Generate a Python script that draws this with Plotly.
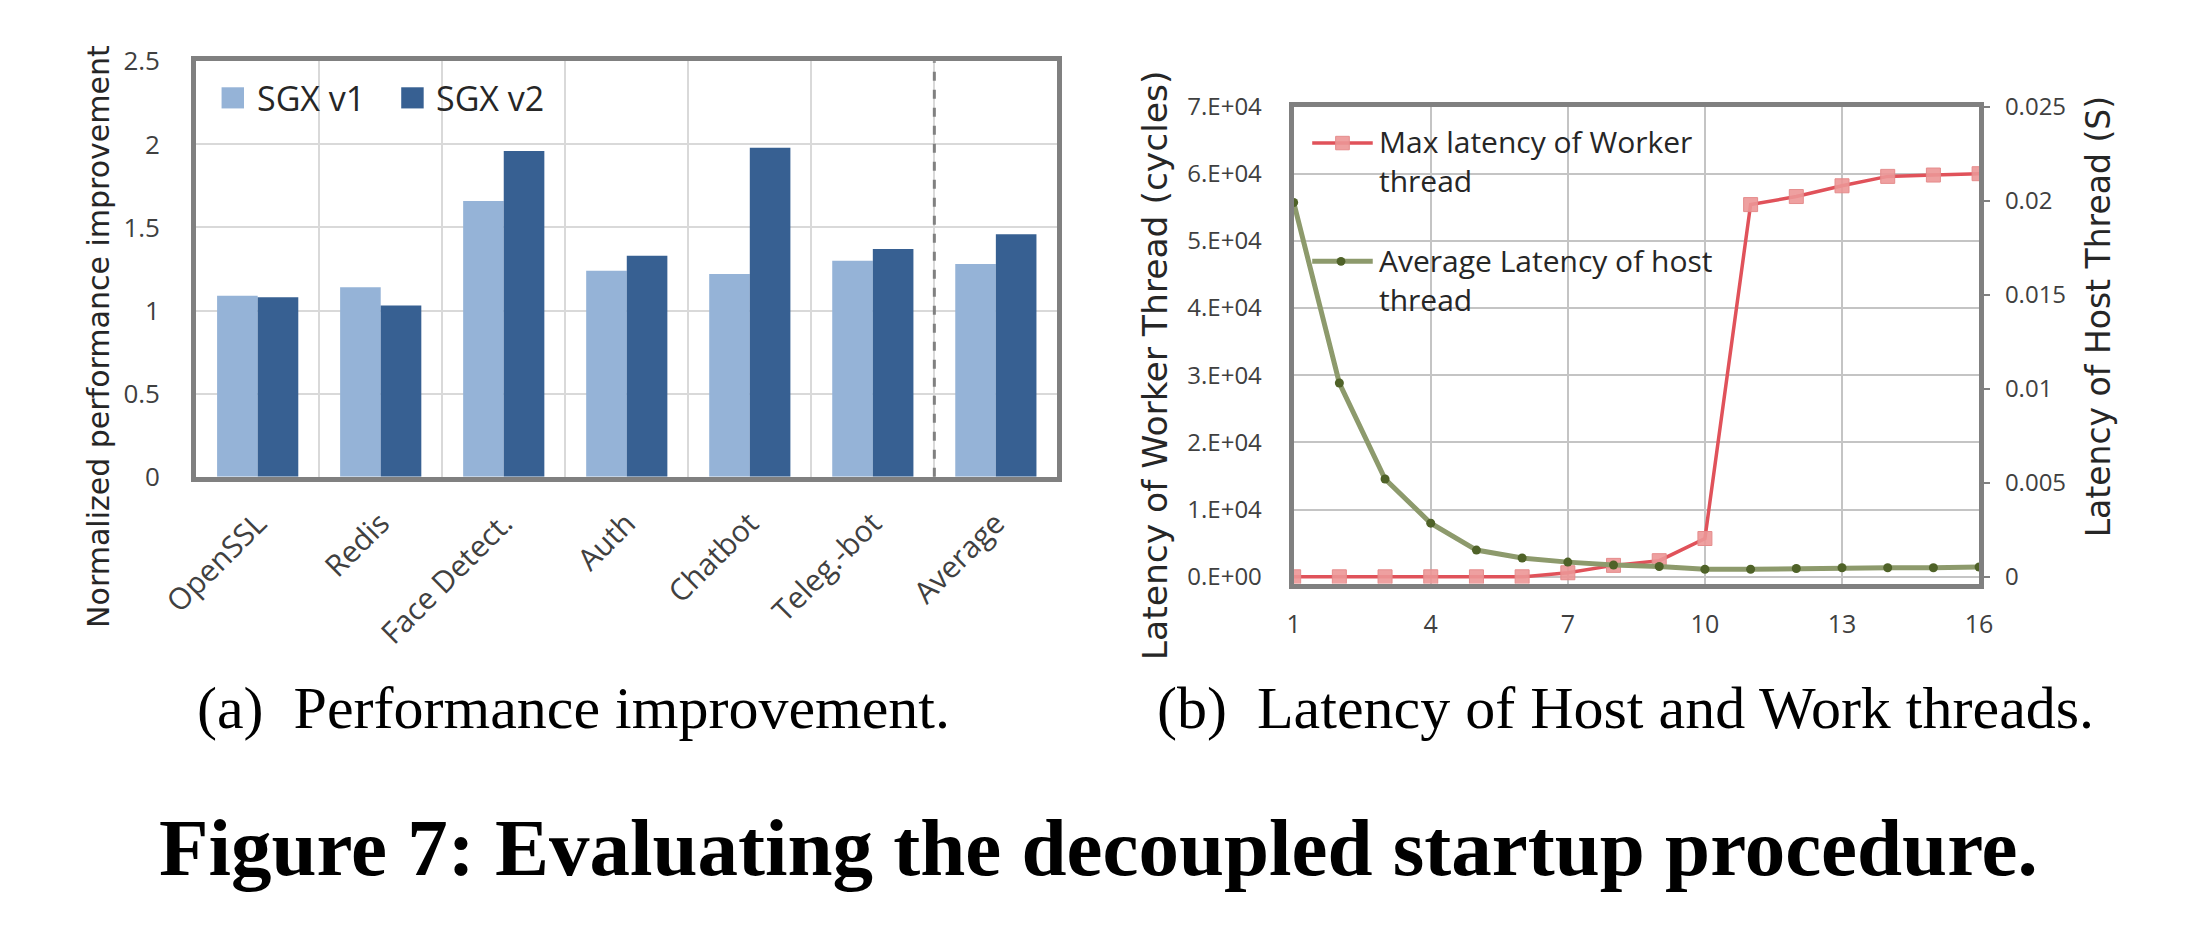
import plotly.graph_objects as go

W, H = 2204, 940

# ---------------- data: (a) performance improvement ----------------
categories = ["OpenSSL", "Redis", "Face Detect.", "Auth", "Chatbot", "Teleg.-bot", "Average"]
sgx_v1 = [1.09, 1.14, 1.66, 1.24, 1.22, 1.30, 1.28]
sgx_v2 = [1.08, 1.03, 1.96, 1.33, 1.98, 1.37, 1.46]
bar_tickvals = [0, 0.5, 1, 1.5, 2, 2.5]
bar_ticktext = ["0", "0.5", "1", "1.5", "2", "2.5"]

# ---------------- data: (b) latency of host and worker threads ----------------
threads = [1, 2, 3, 4, 5, 6, 7, 8, 9, 10, 11, 12, 13, 14, 15, 16]
max_latency_worker = [0, 0, 0, 0, 0, 0, 600, 1700, 2400, 5700,
                      55400, 56600, 58200, 59600, 59800, 60000]
avg_latency_host = [0.0199, 0.0103, 0.0052, 0.00285, 0.00142, 0.00100, 0.00078, 0.00063,
                    0.00055, 0.00040, 0.00040, 0.00044, 0.00048, 0.00048, 0.00048, 0.00052]
thread_ticks = [1, 4, 7, 10, 13, 16]
worker_tickvals = [0, 10000, 20000, 30000, 40000, 50000, 60000, 70000]
worker_ticktext = ["0.E+00", "1.E+04", "2.E+04", "3.E+04", "4.E+04", "5.E+04", "6.E+04", "7.E+04"]
host_tickvals = [0, 0.005, 0.01, 0.015, 0.02, 0.025]
host_ticktext = ["0", "0.005", "0.01", "0.015", "0.02", "0.025"]

# ---------------- styling ----------------
C_V1 = "#95B3D7"
C_V2 = "#376092"
C_RED = "#E0525A"
C_RED_MK = "rgba(236,150,150,0.9)"
C_GREEN = "#8D9A6C"
C_GREEN_MK = "#4F6228"
C_BORDER = "#808080"
TICK_FONT = "Open Sans"
TITLE_FONT = "DejaVu Sans"
SERIF = "Liberation Serif"


def px(x):
    return x / W


def py(y):
    return 1 - y / H


fig = go.Figure()

fig.add_trace(go.Bar(x=categories, y=sgx_v1, name="SGX v1", marker=dict(color=C_V1, line=dict(width=0)),
                     xaxis="x", yaxis="y", showlegend=False))
fig.add_trace(go.Bar(x=categories, y=sgx_v2, name="SGX v2", marker=dict(color=C_V2, line=dict(width=0)),
                     xaxis="x", yaxis="y", showlegend=False))

fig.add_trace(go.Scatter(x=threads, y=max_latency_worker, name="Max latency of Worker thread",
                         mode="lines+markers", xaxis="x2", yaxis="y2", showlegend=False,
                         line=dict(color=C_RED, width=3.5),
                         marker=dict(symbol="square", size=14, color=C_RED_MK,
                                     line=dict(color="#E58C8C", width=1))))
fig.add_trace(go.Scatter(x=threads, y=avg_latency_host, name="Average Latency of host thread",
                         mode="lines+markers", xaxis="x2", yaxis="y3", showlegend=False,
                         line=dict(color=C_GREEN, width=5),
                         marker=dict(symbol="circle", size=9, color=C_GREEN_MK)))

worker_lo = -1000
worker_hi = 70000
host_hi = 0.025
host_lo = worker_lo / worker_hi * host_hi

axis_common = dict(showline=True, linecolor=C_BORDER, linewidth=5, mirror=True, zeroline=False)

fig.update_layout(
    width=W, height=H,
    margin=dict(l=0, r=0, t=0, b=0),
    paper_bgcolor="white", plot_bgcolor="white",
    barmode="group", bargap=0.34, bargroupgap=0,
    xaxis=dict(domain=[px(162), px(1044)], anchor="y", type="category",
               tickson="boundaries", showgrid=True, gridcolor="#D9D9D9", gridwidth=2,
               tickangle=-45, ticks="", ticklabelstandoff=12,
               tickfont=dict(family=TICK_FONT, size=30, color="#404040"), **axis_common),
    yaxis=dict(domain=[py(476), py(44)], anchor="x", range=[0, 2.5],
               tickvals=bar_tickvals, ticktext=bar_ticktext,
               showgrid=True, gridcolor="#D9D9D9", gridwidth=2, ticks="", ticklabelstandoff=26,
               tickfont=dict(family=TICK_FONT, size=26, color="#404040"), **axis_common),
    xaxis2=dict(domain=[px(1286), px(1988)], anchor="y2", range=[1, 16],
                tickvals=thread_ticks, showgrid=True, gridcolor="#C4C4C4", gridwidth=2,
                ticks="", ticklabelstandoff=14,
                tickfont=dict(family=TICK_FONT, size=25, color="#404040"), **axis_common),
    yaxis2=dict(domain=[py(587), py(91)], anchor="x2", range=[worker_lo, worker_hi],
                tickvals=worker_tickvals, ticktext=worker_ticktext,
                showgrid=True, gridcolor="#C4C4C4", gridwidth=2, ticks="", ticklabelstandoff=22,
                tickfont=dict(family=TICK_FONT, size=24, color="#404040"), **axis_common),
    yaxis3=dict(overlaying="y2", side="right", anchor="x2", range=[host_lo, host_hi],
                tickvals=host_tickvals, ticktext=host_ticktext, showgrid=False, zeroline=False,
                showline=False, ticks="outside", ticklen=10, tickwidth=2, tickcolor=C_BORDER,
                ticklabelstandoff=10,
                tickfont=dict(family=TICK_FONT, size=24, color="#404040")),
)

shapes = []
annotations = []


def note(text, x, y, size, family, color="#262626", xanchor="center", yanchor="middle", **kw):
    annotations.append(dict(text=text, xref="paper", yref="paper", x=px(x), y=py(y),
                            xanchor=xanchor, yanchor=yanchor, showarrow=False,
                            font=dict(family=family, size=size, color=color), **kw))


# dashed separator before "Average"
shapes.append(dict(type="line", xref="x", yref="y domain", x0=5.5, x1=5.5, y0=0, y1=1,
                   line=dict(color=C_BORDER, width=3, dash="dash")))

# legend (a)
for x0, color, label in [(188, C_V1, "SGX v1"), (372, C_V2, "SGX v2")]:
    shapes.append(dict(type="rect", xref="paper", yref="paper", x0=px(x0), x1=px(x0 + 23),
                       y0=py(93), y1=py(71), fillcolor=color, line=dict(width=0)))
    note(label, x0 + 34, 82, 34, TICK_FONT, xanchor="left")

# legend (b)
shapes.append(dict(type="line", xref="paper", yref="paper", x0=px(1305), x1=px(1367),
                   y0=py(129), y1=py(129), line=dict(color=C_RED, width=3.5)))
shapes.append(dict(type="rect", xref="paper", yref="paper", x0=px(1329), x1=px(1343),
                   y0=py(136), y1=py(122), fillcolor=C_RED_MK, line=dict(color="#E58C8C", width=1)))
note("Max latency of Worker<br>thread", 1371, 148, 30, TICK_FONT, xanchor="left", align="left")
shapes.append(dict(type="line", xref="paper", yref="paper", x0=px(1305), x1=px(1367),
                   y0=py(252), y1=py(252), line=dict(color=C_GREEN, width=5)))
shapes.append(dict(type="circle", xref="paper", yref="paper", x0=px(1330), x1=px(1339),
                   y0=py(256.5), y1=py(247.5), fillcolor=C_GREEN_MK, line=dict(width=0)))
note("Average Latency of host<br>thread", 1371, 271, 30, TICK_FONT, xanchor="left", align="left")

# axis titles
note("Normalized performance improvement", 62, 330, 30, TITLE_FONT, textangle=-90)
note("Latency of Worker Thread (cycles)", 1144, 360, 34.5, TITLE_FONT, textangle=-90)
note("Latency of Host Thread (S)", 2110, 310, 33, TITLE_FONT, textangle=-90)

# captions
note("(a)\u2002Performance improvement.", 548, 716, 60, SERIF, color="black")
note("(b)\u2002Latency of Host and Work threads.", 1626, 716, 60, SERIF, color="black")
note("<b>Figure 7: Evaluating the decoupled startup procedure.</b>", 1086, 862, 81, SERIF,
     color="black")

fig.update_layout(shapes=shapes, annotations=annotations)

fig.write_html("out.html")
